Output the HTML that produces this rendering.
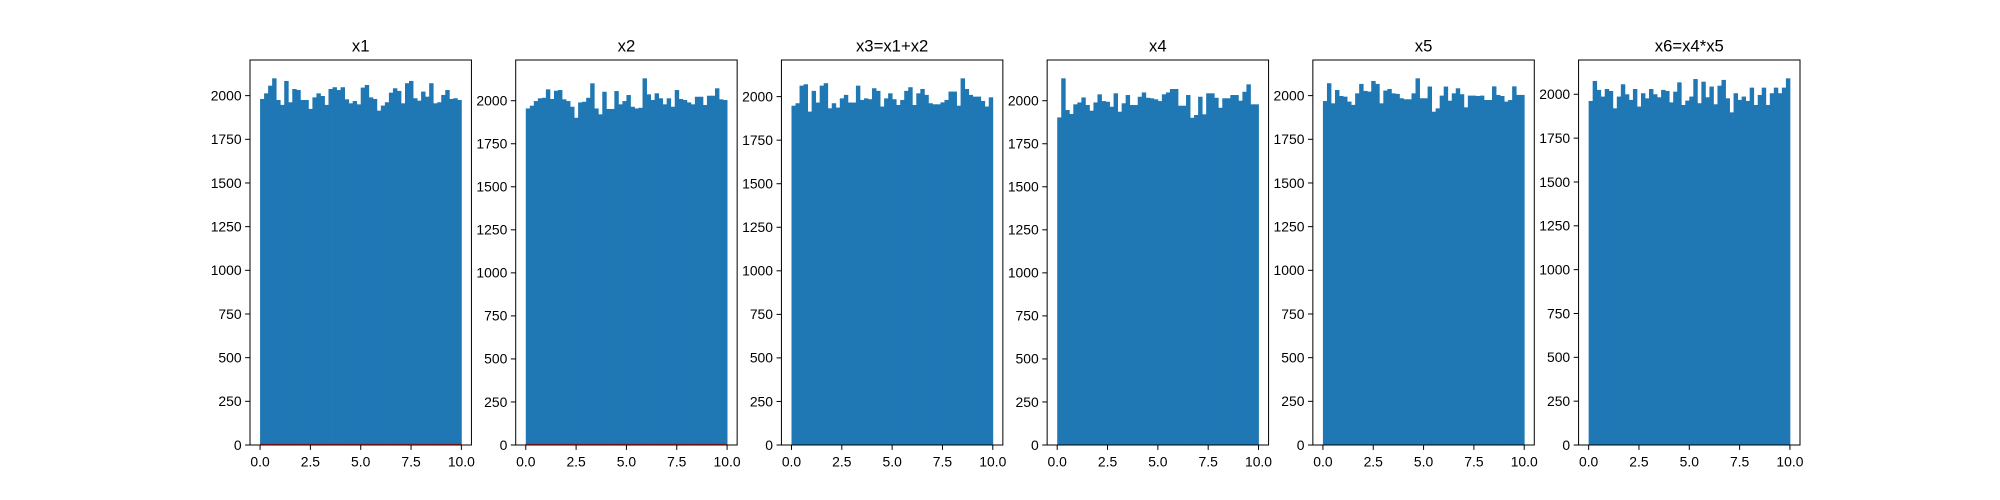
<!DOCTYPE html>
<html><head><meta charset="utf-8"><style>
html,body{margin:0;padding:0;background:#fff}
svg{display:block;font-family:"Liberation Sans","DejaVu Sans",sans-serif}
</style></head><body>
<svg id="fig" width="2000" height="500" viewBox="0 0 2000 500"></svg>
<script>
const titles = ["x1","x2","x3=x1+x2","x4","x5","x6=x4*x5"];
const counts1 = [1981,2013,2057,2099,1975,1947,2084,1962,2038,2032,1975,1975,1924,1990,2013,1998,1947,2038,2048,2032,2048,1979,1956,1969,1950,2046,2061,1990,1981,1914,1943,1962,2017,2042,2027,1956,2071,2084,1985,1971,2023,1994,2071,1956,1962,2004,2032,1981,1985,1975];
const counts2 = [1955,1971,1998,2014,2017,2066,2010,2058,2062,2008,1998,1965,1901,1990,1994,2017,2101,1955,1921,2052,1952,1952,2056,1979,1998,2033,1965,1955,1959,2130,2037,2004,2043,2014,1979,2014,1965,2062,2010,2004,1990,1979,2023,2023,1975,2029,2029,2072,2008,2004];
const counts3 = [1948,1962,2063,2071,1914,2033,1966,2063,2077,1933,1962,1937,1990,2010,1966,1966,2063,1981,1990,1985,2048,2033,1943,1990,2019,1985,1952,1981,2033,2054,1952,2019,2044,2010,1962,1956,1956,1967,1981,2029,2029,1948,2105,2044,2010,2000,2000,1975,1943,1996];
const counts4 = [1903,2130,1946,1923,1979,1990,2019,1975,1942,1990,2037,1998,1994,1965,2043,1936,1985,2033,1975,1975,2023,2048,2017,2014,2008,1998,2037,2048,2068,2068,1971,1971,2033,1901,1917,2023,1921,2043,2043,2017,1959,2014,2014,2033,2033,2000,2052,2095,1979,1979];
const counts5 = [1969,2071,1956,2032,1998,1994,1966,1947,2013,2067,2027,2023,2084,2067,1956,2029,2038,2013,2010,1985,1979,1979,2013,2099,1985,1985,2052,1908,1927,2000,2052,1971,2013,2042,2008,1933,2000,2000,1998,2000,1975,1975,2053,2004,1998,1966,1975,2053,2004,2004];
const counts6 = [1962,2076,2025,1987,2030,2019,1920,1987,2057,2000,1968,2030,1930,2006,1977,2030,2000,1983,2025,2019,1954,2015,2068,1939,1964,1987,2087,1949,2072,1983,2044,1943,2049,2082,1977,1897,2006,1968,1987,1962,2038,1939,1996,2038,1939,2006,2038,2006,2038,2091];
const xTicks = [0,2.5,5,7.5,10];
const xTickLabels = ["0.0","2.5","5.0","7.5","10.0"];
const binMin = 0, binMax = 10;
const redLinePanels = [true,true,false,false,false,false];

const NS="http://www.w3.org/2000/svg";
const svg=document.getElementById('fig');
function mk(tag,attrs,parent){const e=document.createElementNS(NS,tag);for(const k in attrs)e.setAttribute(k,attrs[k]);(parent||svg).appendChild(e);return e;}
const allCounts=[counts1,counts2,counts3,counts4,counts5,counts6];
const L=250,R=1800,T=60,B=445;
const W=(R-L)/(6+5*0.2),GAP=W*0.2;
allCounts.forEach((counts,pi)=>{
  const x0=L+pi*(W+GAP);
  const g=mk('g',{});
  
  
  const ymax=Math.max(...counts)*1.05;
  const xr=(binMax-binMin)*0.05;
  const sx=v=>x0+(v-(binMin-xr))/((binMax-binMin)+2*xr)*W;
  const sy=v=>B-v/ymax*(B-T);
  const n=counts.length,bw=(binMax-binMin)/n;
  counts.forEach((c,i)=>{
    const a=sx(binMin+i*bw),b=sx(binMin+(i+1)*bw);
    const r=mk('rect',{x:a,y:sy(c),width:b-a+0.4,height:B-sy(c),fill:'#1f77b4'},g);
    
    
  });
  if(redLinePanels[pi]){
    const ln=mk('line',{x1:sx(binMin),x2:sx(binMax),y1:sy(0)-1,y2:sy(0)-1,stroke:'#d62728','stroke-width':1.5},g);
    
    
  }
  const fr=mk('rect',{x:x0,y:T,width:W,height:B-T,fill:'none',stroke:'#000','stroke-width':1},g);
  
  
  for(let v=0;v<=ymax;v+=250){
    const y=sy(v);
    mk('line',{x1:x0-4.9,x2:x0,y1:y,y2:y,stroke:'#000','stroke-width':1},g);
    const t=mk('text',{x:x0-8.4,y:y+4.8,'text-anchor':'end','font-size':13.9,fill:'#000'},g);
    t.textContent=String(v);
    
    
  }
  xTicks.forEach((v,i)=>{
    const x=sx(v);
    mk('line',{x1:x,x2:x,y1:B,y2:B+4.9,stroke:'#000','stroke-width':1},g);
    const t=mk('text',{x:x,y:B+21.5,'text-anchor':'middle','font-size':13.9,fill:'#000'},g);
    t.textContent=xTickLabels[i];
    
    
  });
  const tt=mk('text',{x:x0+W/2,y:T-8.3,'text-anchor':'middle','font-size':16.7,fill:'#000'},g);
  tt.textContent=titles[pi];
  
  
});
</script>
</body></html>
